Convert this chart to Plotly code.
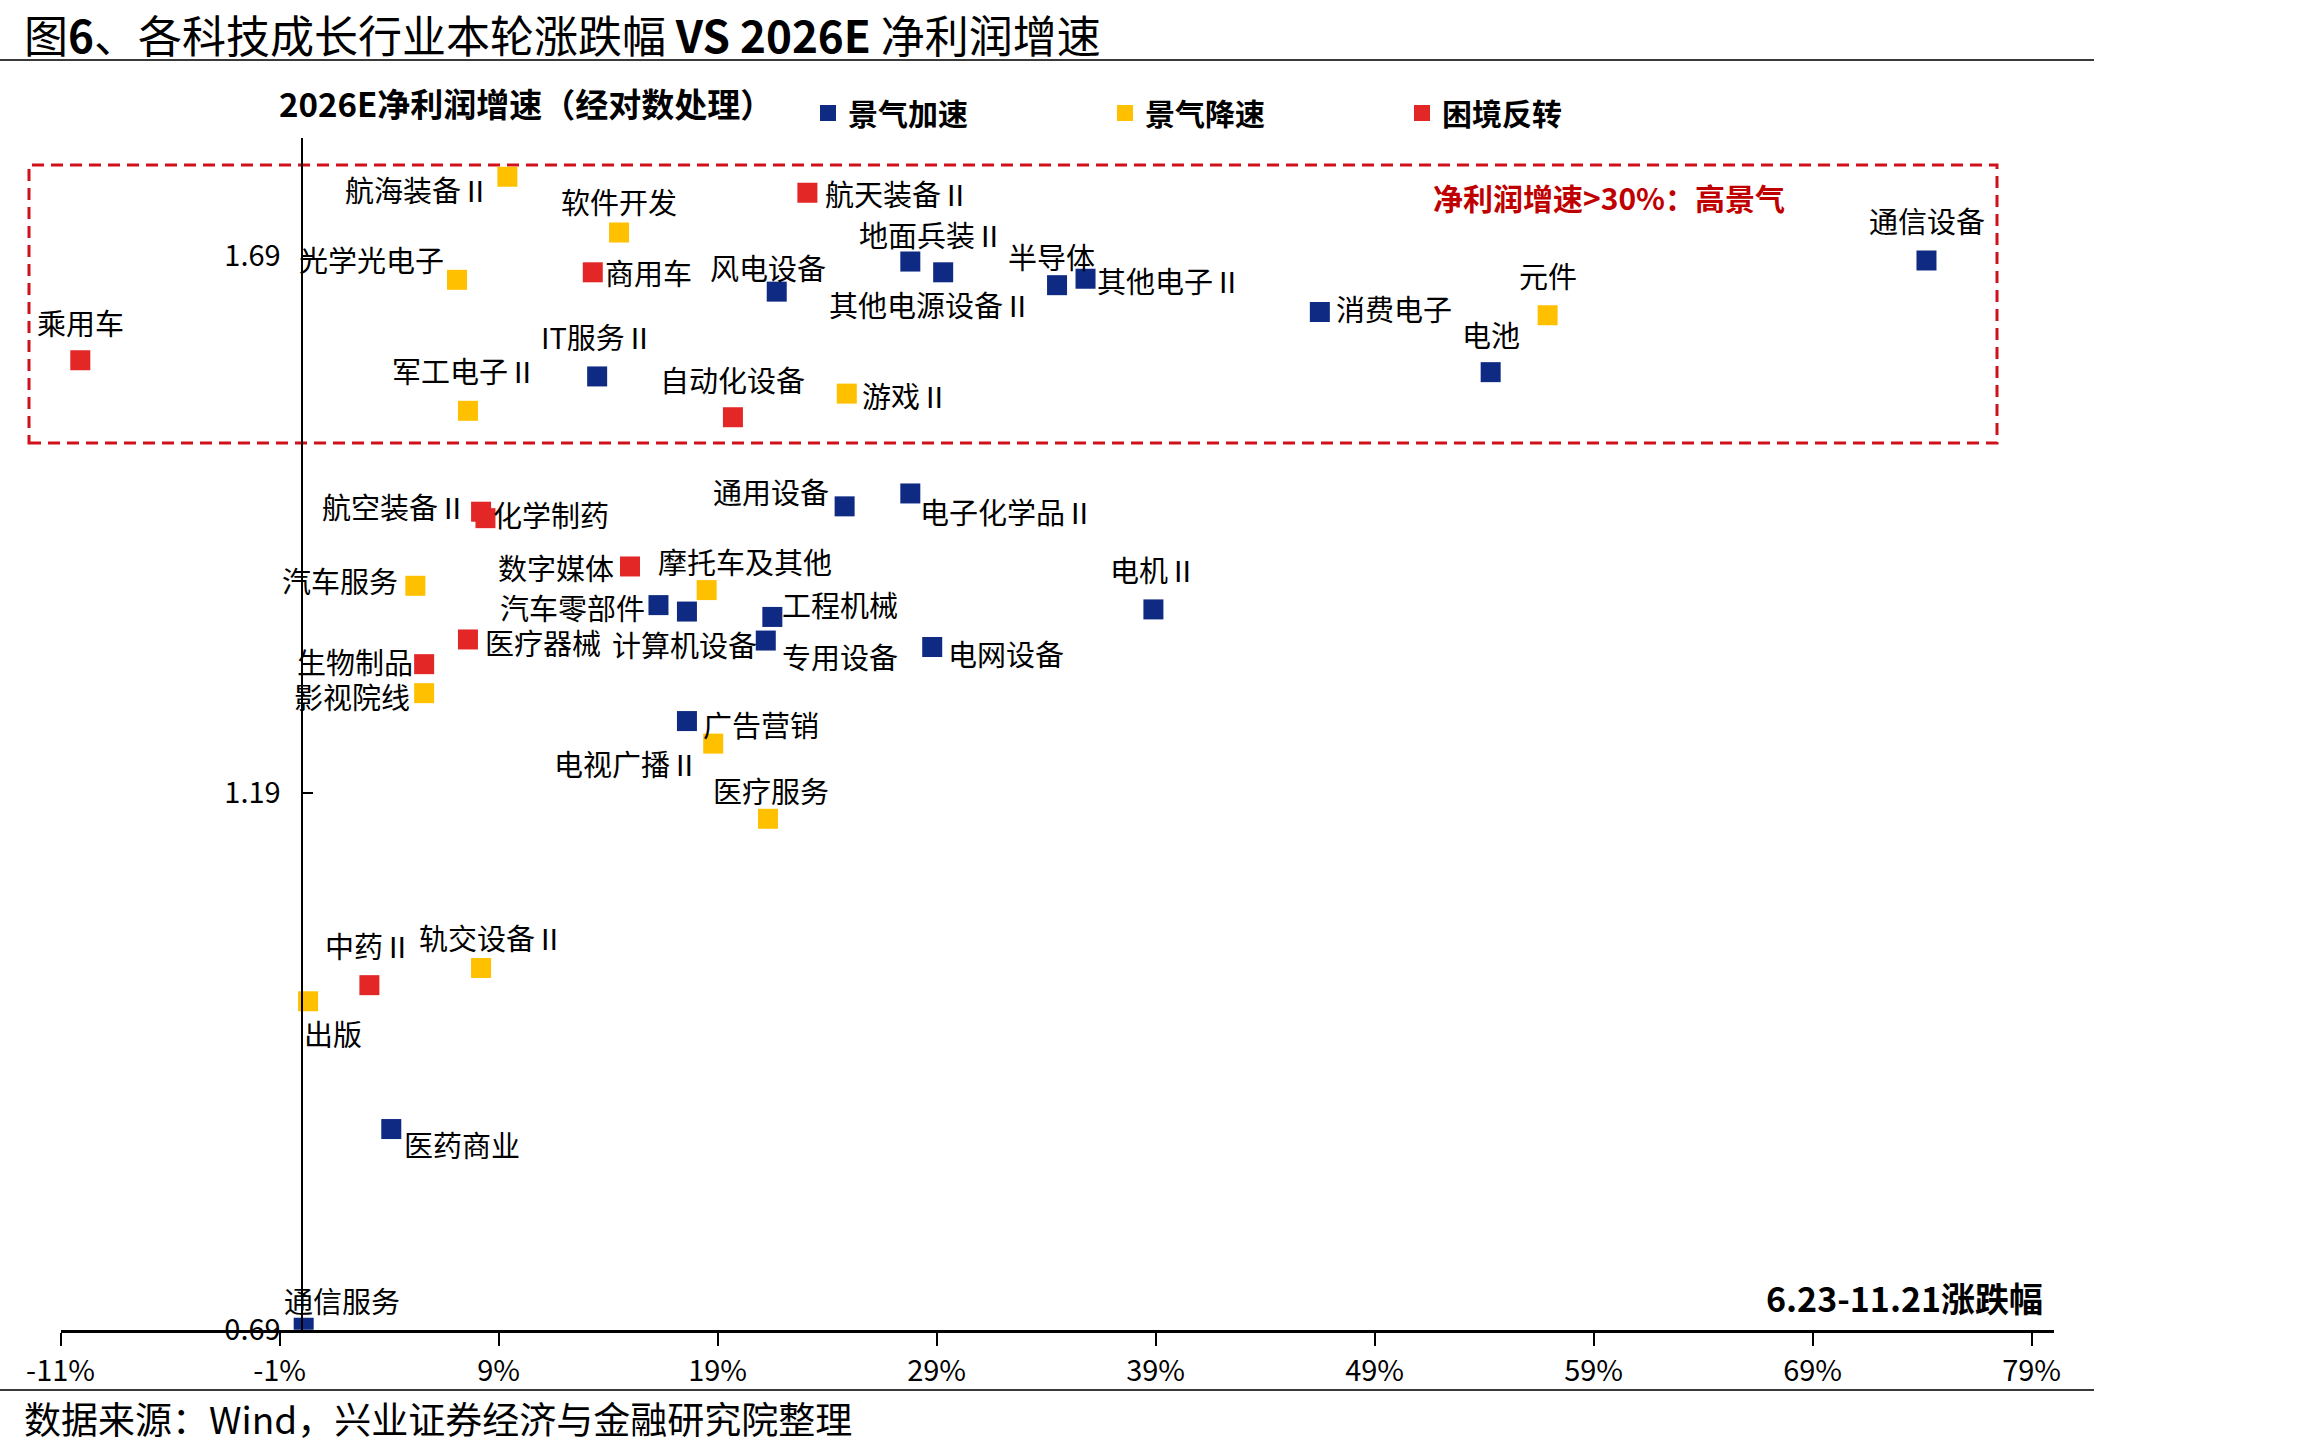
import plotly.graph_objects as go

W, H = 2309, 1452

# ---------------- data ----------------
blue_names = ["通信设备", "消费电子", "电池", "其他电子Ⅱ", "半导体", "地面兵装Ⅱ", "其他电源设备Ⅱ",
              "风电设备", "IT服务Ⅱ", "通用设备", "电子化学品Ⅱ", "电机Ⅱ", "汽车零部件", "计算机设备",
              "工程机械", "专用设备", "电网设备", "广告营销", "医药商业", "通信服务"]
blue_x = [74.2, 46.5, 54.3, 35.8, 34.5, 27.8, 29.3, 21.7, 13.5, 24.8, 27.8, 38.9, 16.3, 17.6,
          21.5, 21.2, 28.8, 17.6, 4.1, 0.1]
blue_y = [1.686, 1.638, 1.582, 1.669, 1.663, 1.685, 1.675, 1.657, 1.578, 1.457, 1.469, 1.361,
          1.365, 1.359, 1.354, 1.332, 1.326, 1.257, 0.877, 0.692]

yellow_names = ["航海装备Ⅱ", "软件开发", "光学光电子", "元件", "军工电子Ⅱ", "游戏Ⅱ", "汽车服务",
                "摩托车及其他", "影视院线", "电视广播Ⅱ", "医疗服务", "轨交设备Ⅱ", "出版"]
yellow_x = [9.4, 14.5, 7.1, 56.9, 7.6, 24.9, 5.2, 18.5, 5.6, 18.8, 21.3, 8.2, 0.3]
yellow_y = [1.764, 1.712, 1.668, 1.635, 1.546, 1.562, 1.383, 1.379, 1.283, 1.236, 1.166, 1.027, 0.996]

red_names = ["乘用车", "航天装备Ⅱ", "商用车", "自动化设备", "航空装备Ⅱ", "化学制药", "数字媒体",
             "医疗器械", "生物制品", "中药Ⅱ"]
red_x = [-10.1, 23.1, 13.3, 19.7, 8.2, 8.4, 15.0, 7.6, 5.6, 3.1]
red_y = [1.593, 1.749, 1.675, 1.540, 1.452, 1.446, 1.401, 1.333, 1.310, 1.011]

series_names = ["景气加速", "景气降速", "困境反转"]
x_tick_vals = [-11, -1, 9, 19, 29, 39, 49, 59, 69, 79]
x_tick_text = ["-11%", "-1%", "9%", "19%", "29%", "39%", "49%", "59%", "69%", "79%"]
y_tick_vals = [0.69, 1.19, 1.69]
y_tick_text = ["0.69", "1.19", "1.69"]

# ---------------- styles ----------------
FONT = "Noto Sans CJK SC, Noto Sans, sans-serif"
BLUE, YELLOW, RED = "#0E2A82", "#FFC000", "#E32626"
X_RANGE = [-11, 80]
Y_RANGE = [0.69, 1.80]
X_DOM = [60.6 / W, 2053.5 / W]
Y_DOM = [1 - 1329.8 / H, 1 - 138.1 / H]

# label centre offsets from marker centre (px, right / down)
LABEL_OFFSETS = {
    "通信设备": (1, -40), "消费电子": (74, -4), "电池": (0, -38), "其他电子Ⅱ": (84, 1),
    "半导体": (-6, -29), "地面兵装Ⅱ": (21, -28), "其他电源设备Ⅱ": (-13, 32), "风电设备": (-9, -25),
    "IT服务Ⅱ": (0, -40), "通用设备": (-74, -15), "电子化学品Ⅱ": (97, 18), "电机Ⅱ": (0, -40),
    "汽车零部件": (-86, 2), "计算机设备": (-2, 32), "工程机械": (68, -13), "专用设备": (74, 15),
    "电网设备": (74, 6), "广告营销": (74, 3), "医药商业": (71, 15), "通信服务": (38, -28),
    "航海装备Ⅱ": (-90, 12), "软件开发": (0, -32), "光学光电子": (-85, -21), "元件": (0, -40),
    "军工电子Ⅱ": (-3, -41), "游戏Ⅱ": (59, 1), "汽车服务": (-75, -6), "摩托车及其他": (38, -29),
    "影视院线": (-72, 3), "电视广播Ⅱ": (-87, 19), "医疗服务": (3, -29), "轨交设备Ⅱ": (10, -31),
    "出版": (25, 32),
    "乘用车": (0, -38), "航天装备Ⅱ": (90, 0), "商用车": (56, 0), "自动化设备": (0, -38),
    "航空装备Ⅱ": (-87, -6), "化学制药": (66, -4), "数字媒体": (-74, 1), "医疗器械": (75, 3),
    "生物制品": (-69, -3), "中药Ⅱ": (-1, -40),
}

fig = go.Figure()
groups = [
    (series_names[0], blue_names, blue_x, blue_y, BLUE),
    (series_names[1], yellow_names, yellow_x, yellow_y, YELLOW),
    (series_names[2], red_names, red_x, red_y, RED),
]
annotations = []
for sname, names, xs, ys, col in groups:
    fig.add_trace(go.Scatter(
        x=xs, y=ys, mode="markers", name=f"<b>{sname}</b>", text=names,
        marker=dict(symbol="square", size=20, color=col, line=dict(width=0)),
        hovertemplate="%{text}<br>%{x}%<br>%{y}<extra></extra>",
    ))
    for n, xv, yv in zip(names, xs, ys):
        dx, dy = LABEL_OFFSETS.get(n, (0, -35))
        annotations.append(dict(
            x=xv, y=yv, xref="x", yref="y", text=n, showarrow=False,
            xshift=dx, yshift=-dy, xanchor="center", yanchor="middle",
            font=dict(family=FONT, size=29, color="#000000"),
        ))

# y axis sits at x = 0
y_axis_pos = X_DOM[0] + (0 - X_RANGE[0]) / (X_RANGE[1] - X_RANGE[0]) * (X_DOM[1] - X_DOM[0])

# text annotations
annotations += [
    dict(x=22 / W, y=1.0, xref="paper", yref="paper", xanchor="left", yanchor="top",
         text="图<b>6</b>、各科技成长行业本轮涨跌幅 <b>VS 2026E</b> 净利润增速", showarrow=False,
         font=dict(family=FONT, size=44, color="#000000")),
    dict(x=526 / W, y=1 - 103 / H, xref="paper", yref="paper", xanchor="center", yanchor="middle",
         text="<b>2026E净利润增速（经对数处理）</b>", showarrow=False,
         font=dict(family=FONT, size=33, color="#000000")),
    dict(x=1609 / W, y=1 - 197 / H, xref="paper", yref="paper", xanchor="center", yanchor="middle",
         text="<b>净利润增速&gt;30%：高景气</b>", showarrow=False,
         font=dict(family=FONT, size=30, color="#C00000")),
    dict(x=2045 / W, y=1 - 1297 / H, xref="paper", yref="paper", xanchor="right", yanchor="middle",
         text="<b>6.23-11.21涨跌幅</b>", showarrow=False,
         font=dict(family=FONT, size=34, color="#000000")),
    dict(x=22 / W, y=1 - 1418 / H, xref="paper", yref="paper", xanchor="left", yanchor="middle",
         text="数据来源：Wind，兴业证券经济与金融研究院整理", showarrow=False,
         font=dict(family=FONT, size=37, color="#000000")),
]

shapes = [
    dict(type="rect", xref="paper", yref="paper", x0=29 / W, x1=1997 / W, y0=1 - 443 / H, y1=1 - 165 / H,
         line=dict(color="#D0101A", width=3, dash="12px,7px"), fillcolor="rgba(0,0,0,0)", layer="below"),
    dict(type="line", xref="paper", yref="paper", x0=0, x1=2094 / W, y0=1 - 60 / H, y1=1 - 60 / H,
         line=dict(color="#3A3A3A", width=2)),
    dict(type="line", xref="paper", yref="paper", x0=0, x1=2094 / W, y0=1 - 1390 / H, y1=1 - 1390 / H,
         line=dict(color="#3A3A3A", width=2)),
]

fig.update_layout(
    width=W, height=H, autosize=False,
    margin=dict(l=0, r=0, t=0, b=0, pad=0, autoexpand=False),
    paper_bgcolor="white", plot_bgcolor="white",
    font=dict(family=FONT, size=29, color="#000000"),
    showlegend=True,
    legend=dict(orientation="h", x=808 / W, y=1 - 113 / H, xanchor="left", yanchor="middle",
                entrywidth=252, entrywidthmode="pixels", itemsizing="trace",
                font=dict(family=FONT, size=30, color="#000000"), bgcolor="rgba(0,0,0,0)",
                traceorder="normal"),
    xaxis=dict(range=X_RANGE, domain=X_DOM, anchor="y", tickvals=x_tick_vals, ticktext=x_tick_text,
               showgrid=False, zeroline=False, showline=True, linecolor="#000000", linewidth=3,
               ticks="outside", ticklen=13, tickwidth=2, tickcolor="#000000",
               tickfont=dict(family=FONT, size=29, color="#000000")),
    yaxis=dict(range=Y_RANGE, domain=Y_DOM, anchor="free", position=y_axis_pos,
               tickvals=y_tick_vals, ticktext=y_tick_text,
               showgrid=False, zeroline=False, showline=True, linecolor="#000000", linewidth=2,
               ticks="inside", ticklen=10, tickwidth=2, tickcolor="#000000", ticklabelstandoff=14,
               tickfont=dict(family=FONT, size=29, color="#000000")),
    annotations=annotations,
    shapes=shapes,
)

fig.write_html(
    "out.html",
    post_script="document.body.style.margin='0';document.body.style.padding='0';"
                "document.documentElement.style.overflow='hidden';",
)
